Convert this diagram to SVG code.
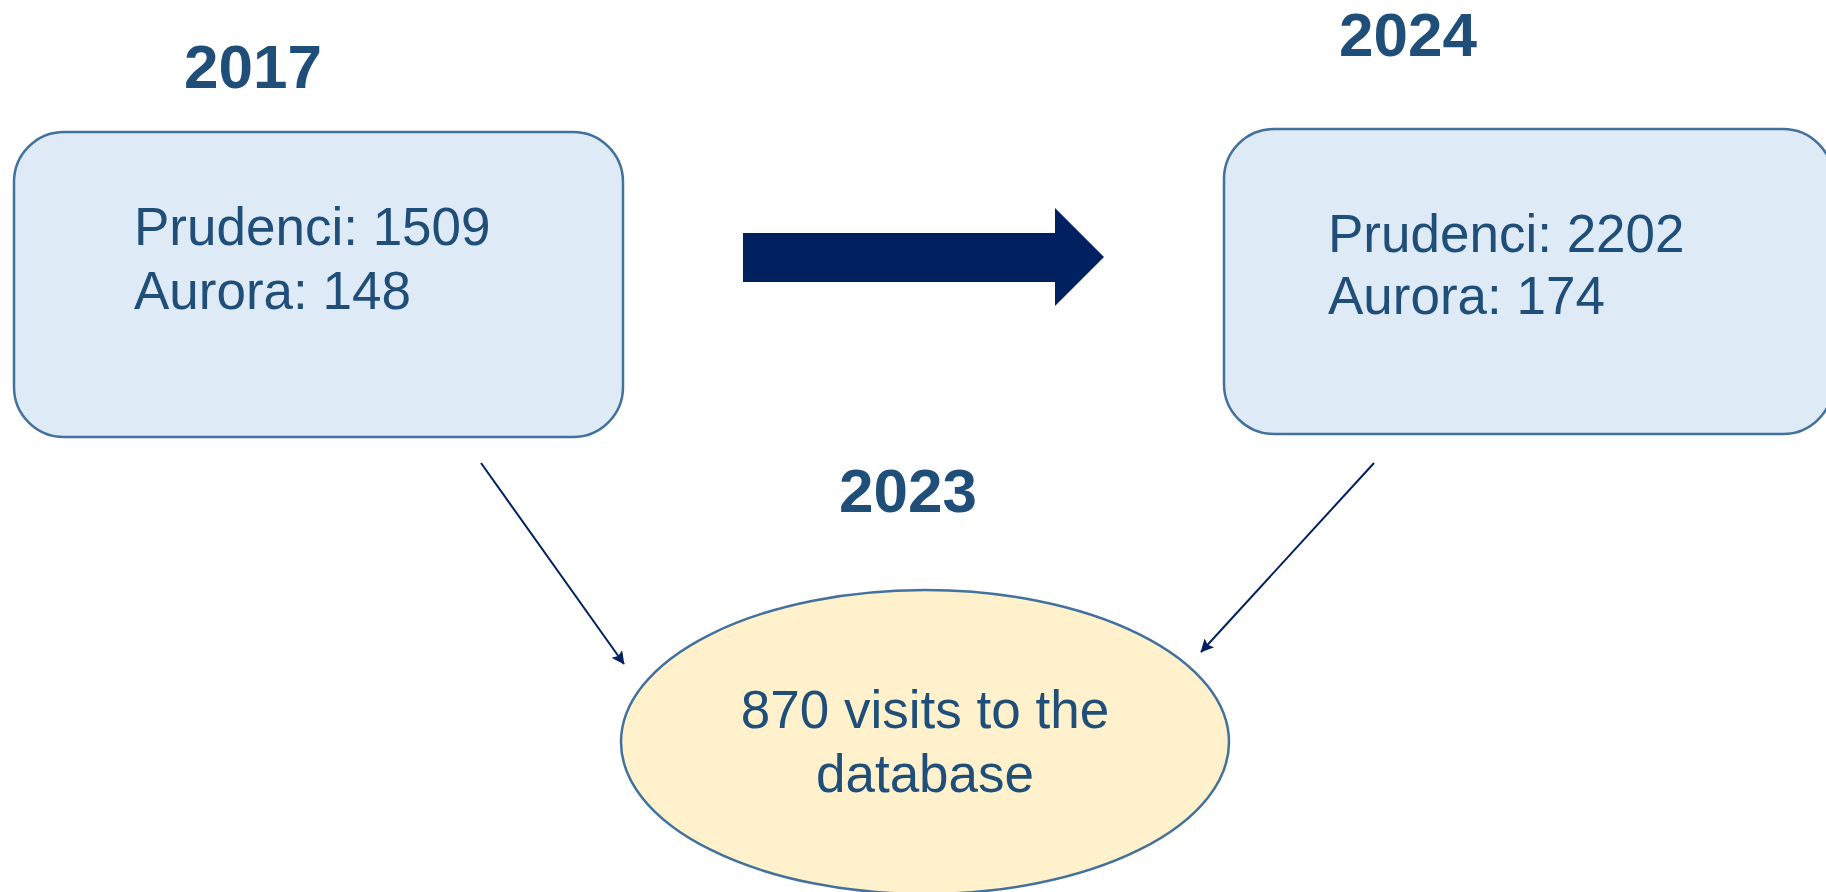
<svg xmlns="http://www.w3.org/2000/svg" width="1826" height="892" viewBox="0 0 1826 892">
<style>
.box{fill:#DEEAF6;stroke:#41719C;stroke-width:2.5}
.ell{fill:#FFF1CC;stroke:#41719C;stroke-width:2.5}
.t{font-family:"Liberation Sans",Arial,sans-serif;fill:#1F4E79;font-size:53px}
.yr{font-family:"Liberation Sans",Arial,sans-serif;fill:#1F4E79;font-size:62px;font-weight:bold}
.con{stroke:#002060;stroke-width:2;fill:none}
</style>
<defs>
<marker id="ah2" viewBox="0 0 10 10" refX="9.5" refY="5" markerWidth="17" markerHeight="13" markerUnits="userSpaceOnUse" orient="auto">
<path d="M0,0 L10,5 L0,10 L2,5 Z" fill="#002060"/>
</marker>
</defs>
<rect width="1826" height="892" fill="#fff"/>
<g id="label-2017"><text class="yr" x="184" y="88">2017</text></g>
<g id="label-2024"><text class="yr" x="1339" y="56">2024</text></g>
<g id="label-2023"><text class="yr" x="908" y="512" text-anchor="middle">2023</text></g>
<g id="box-2017">
<rect class="box" x="14" y="132" width="609" height="305" rx="50"/>
<text class="t" x="134" y="245">Prudenci: 1509</text>
<text class="t" x="134" y="309">Aurora: 148</text>
</g>
<g id="box-2024">
<rect class="box" x="1224" y="129" width="609" height="305" rx="50"/>
<text class="t" x="1328" y="252">Prudenci: 2202</text>
<text class="t" x="1328" y="314">Aurora: 174</text>
</g>
<g id="db-2023">
<ellipse class="ell" cx="925" cy="742" rx="304" ry="152"/>
<text class="t" x="925" y="728" text-anchor="middle">870 visits to the</text>
<text class="t" x="925" y="792" text-anchor="middle">database</text>
</g>
<g id="connectors">
<path d="M743,233 H1055 V208 L1104,257 L1055,306 V282 H743 Z" fill="#002060"/>
<line class="con" x1="481" y1="463" x2="624" y2="664" marker-end="url(#ah2)"/>
<line class="con" x1="1374" y1="463" x2="1201" y2="652" marker-end="url(#ah2)"/>
</g>
</svg>
